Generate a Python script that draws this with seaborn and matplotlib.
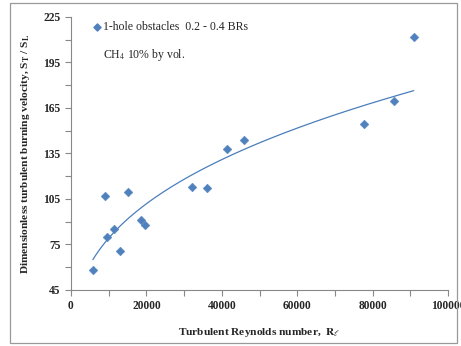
import numpy as np
import pandas as pd
import matplotlib
matplotlib.use("Agg")
import matplotlib.pyplot as plt
from matplotlib.patches import Rectangle
from matplotlib.ticker import MultipleLocator
import seaborn as sns

# data
reynolds = [5800, 9100, 9550, 11300, 13100, 15100, 18500, 19500,
            32200, 36100, 41400, 45900, 77700, 85600, 90900]
st_sl = [58.2, 107.0, 79.7, 85.4, 70.7, 109.4, 90.9, 87.6,
         112.7, 112.5, 137.7, 143.9, 154.4, 169.6, 212.0]
series_label = "1-hole obstacles  0.2 - 0.4 BRs"
note_text = "CH$_4$ 10% by vol."
x_ticks = [0, 20000, 40000, 60000, 80000, 100000]
y_ticks = [45, 75, 105, 135, 165, 195, 225]

df = pd.DataFrame({"Re": reynolds, "S": st_sl})

# power-law trendline (Excel style)
b, ln_a = np.polyfit(np.log(df["Re"]), np.log(df["S"]), 1)
xf = np.linspace(min(reynolds), max(reynolds), 200)
fit = pd.DataFrame({"Re": xf, "S": np.exp(ln_a) * xf ** b})

sns.set_style("ticks")
plt.rcParams["font.family"] = ["Liberation Serif", "DejaVu Serif"]
plt.rcParams["mathtext.fontset"] = "stix"

fig = plt.figure(figsize=(4.61, 3.46), dpi=100)
ax = fig.add_axes([0.154, 0.162, 0.818, 0.789])

blue = "#4a7ebb"
sns.lineplot(data=fit, x="Re", y="S", ax=ax, color=blue, lw=0.9)
sns.scatterplot(data=df, x="Re", y="S", ax=ax, marker="D", s=20,
                color="#4f81bd", edgecolor="#4f81bd", linewidth=0.3, zorder=3)

ax.set_xlim(0, 100000)
ax.set_ylim(45, 225)
ax.set_xticks(x_ticks)
ax.set_yticks(y_ticks)
ax.xaxis.set_minor_locator(MultipleLocator(10000))
ax.yaxis.set_minor_locator(MultipleLocator(15))
ax.set_xticklabels([str(t) for t in x_ticks], fontweight="bold", fontsize=8.3)
ax.set_yticklabels([str(t) for t in y_ticks], fontweight="bold", fontsize=8.3)
ax.tick_params(which="both", length=4, width=0.8, color="#888888", direction="out")
ax.tick_params(axis="x", pad=3)
for s in ["top", "right"]:
    ax.spines[s].set_visible(False)
for s in ["left", "bottom"]:
    ax.spines[s].set_color("#888888")
    ax.spines[s].set_linewidth(0.8)

ax.set_xlabel(r"Turbulent Reynolds number,  $\mathbf{R}_\ell$",
              fontweight="bold", fontsize=8.2, labelpad=10)
ax.set_ylabel(r"Dimensionless turbulent burning velocity, S$_\mathbf{T}$ / S$_\mathbf{L}$",
              fontweight="bold", fontsize=8.2, labelpad=8)

# legend-like annotation
ax.scatter([0.069], [0.963], transform=ax.transAxes, marker="D", s=13,
           color="#4f81bd", clip_on=False, zorder=4)
ax.text(0.085, 0.963, series_label, transform=ax.transAxes, fontsize=8.5,
        va="center", ha="left")
ax.text(0.085, 0.86, note_text, transform=ax.transAxes, fontsize=8.5,
        va="center", ha="left")

fig.patches.append(Rectangle((10 / 461, 3 / 346), 447 / 461, 340 / 346,
                             transform=fig.transFigure, fill=False,
                             edgecolor="#999999", lw=0.9))

fig.savefig("out.png", dpi=100)
